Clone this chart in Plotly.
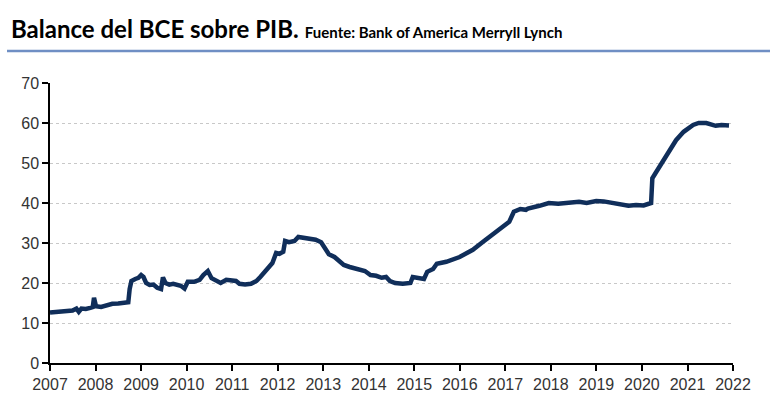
import plotly.graph_objects as go

dates = [
    "2007-01-01","2007-02-15","2007-04-01","2007-05-15","2007-07-01","2007-08-01","2007-08-20",
    "2007-09-10","2007-10-15","2007-11-20","2007-12-10","2007-12-20","2008-01-05","2008-02-15",
    "2008-04-01","2008-05-15","2008-07-01","2008-08-15","2008-09-20","2008-10-01","2008-10-15",
    "2008-11-15","2008-12-10","2009-01-01","2009-01-20","2009-02-10","2009-03-10","2009-04-10",
    "2009-05-10","2009-06-10","2009-06-25","2009-07-15","2009-08-15","2009-09-15","2009-10-15",
    "2009-11-15","2009-12-15","2010-01-10","2010-03-01","2010-04-15","2010-05-15","2010-06-20",
    "2010-07-20","2010-09-01","2010-10-01","2010-11-15","2010-12-31","2011-02-01","2011-03-01",
    "2011-04-15","2011-06-01","2011-07-15","2011-08-15","2011-09-15","2011-10-15","2011-11-20",
    "2011-12-20","2012-01-15","2012-02-15","2012-03-01","2012-04-01","2012-05-15","2012-06-15",
    "2012-08-01","2012-09-15","2012-11-01","2012-12-15","2013-01-15","2013-02-15","2013-04-01",
    "2013-05-15","2013-06-15","2013-08-01","2013-10-01","2013-12-01","2014-01-15","2014-03-01",
    "2014-04-15","2014-05-20","2014-06-20","2014-08-01","2014-10-01","2014-12-01","2014-12-20",
    "2015-02-15","2015-03-20","2015-04-15","2015-06-01","2015-07-01","2015-09-15","2015-12-31",
    "2016-04-15","2016-07-01","2016-09-20","2016-12-01","2017-02-01","2017-03-10","2017-05-01",
    "2017-06-15","2017-07-01","2017-10-01","2017-12-15","2018-03-01","2018-05-15","2018-08-15",
    "2018-10-15","2018-12-31","2019-03-01","2019-05-01","2019-07-01","2019-09-15","2019-11-15",
    "2020-01-15","2020-03-15","2020-03-25","2020-04-20","2020-06-01","2020-08-01","2020-10-01",
    "2020-12-01","2021-02-15","2021-04-01","2021-06-01","2021-08-15","2021-10-01","2021-11-30",
]
balance_pct_gdp = [
    12.6,12.7,12.8,12.9,13.1,13.6,12.8,
    13.6,13.5,13.8,14.0,16.3,14.2,14.0,
    14.4,14.8,14.9,15.0,15.2,18.5,20.5,
    21.0,21.3,22.0,21.5,20.0,19.5,19.6,
    18.8,18.5,21.4,20.0,19.6,19.8,19.5,
    19.3,18.6,20.3,20.3,20.8,22.0,23.0,
    21.2,20.3,20.0,20.8,20.6,20.5,19.8,
    19.6,19.8,20.5,21.5,22.5,23.8,25.0,
    27.5,27.3,27.8,30.5,30.2,30.5,31.5,
    31.3,31.1,30.8,30.2,28.5,27.2,26.5,
    25.5,24.5,24.0,23.5,23.0,22.0,21.8,
    21.3,21.5,20.5,20.0,19.8,20.0,21.5,
    21.2,21.0,22.8,23.5,24.8,25.3,26.5,
    28.3,30.2,32.0,33.7,35.3,37.8,38.5,
    38.3,38.6,39.3,40.0,39.8,40.0,40.3,
    40.0,40.5,40.4,40.0,39.8,39.3,39.5,
    39.4,40.0,46.2,47.5,49.5,52.7,55.7,
    57.8,59.5,60.0,60.0,59.3,59.5,59.4,
]
year_ticks = [f"{y}-01-01" for y in range(2007, 2023)]
year_labels = [str(y) for y in range(2007, 2023)]

title_text = "Balance del BCE sobre PIB."
source_text = "Fuente: Bank of America Merryll Lynch"

fig = go.Figure()
fig.add_trace(go.Scatter(
    x=dates, y=balance_pct_gdp, mode="lines",
    line=dict(color="#102e5a", width=4.5),
    hoverinfo="skip", showlegend=False,
))

tick_font = dict(family="Arial", size=16, color="#333333")

fig.update_layout(
    width=770, height=409,
    margin=dict(l=50, r=37, t=83, b=46),
    paper_bgcolor="white", plot_bgcolor="white",
    font=dict(family="Arial"),
    xaxis=dict(
        type="date", range=["2007-01-01", "2022-01-01"],
        tickvals=year_ticks, ticktext=year_labels,
        showgrid=False, showline=True, linecolor="black", linewidth=1.5,
        ticks="outside", ticklen=6, tickcolor="black", tickwidth=1.5,
        tickfont=tick_font, zeroline=False,
    ),
    yaxis=dict(
        range=[0, 70], dtick=10, tick0=0,
        showgrid=True, gridcolor="#c8c8c8", griddash="dot", gridwidth=1,
        showline=True, linecolor="black", linewidth=1.5,
        ticks="outside", ticklen=6, tickcolor="black", tickwidth=1.5,
        tickfont=tick_font, zeroline=False,
    ),
    annotations=[
        dict(xref="paper", yref="paper", x=(9 - 50) / 683, y=(363 - 45) / 280,
             xanchor="left", yanchor="bottom", showarrow=False,
             text=f"<b>{title_text}</b> <span style='font-size:15px'><b>{source_text}</b></span>",
             font=dict(family="Lato", size=24, color="black")),
    ],
    shapes=[
        dict(type="line", xref="paper", yref="paper",
             x0=(7 - 50) / 683, x1=(770 - 50) / 683,
             y0=(363 - 51) / 280, y1=(363 - 51) / 280,
             line=dict(color="#6f8fc4", width=2.5)),
    ],
)

fig.write_html("out.html")
